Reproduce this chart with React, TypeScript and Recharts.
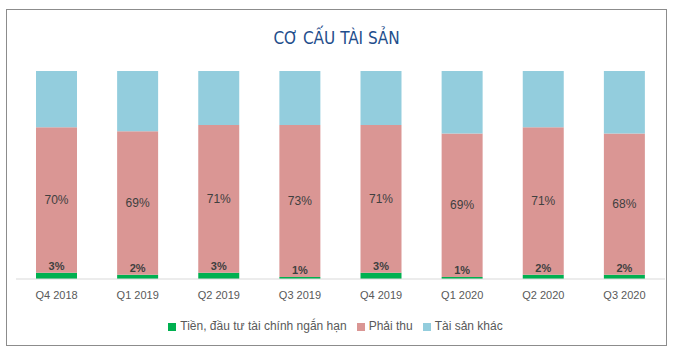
import { BarChart, Bar, XAxis, YAxis, Legend, LabelList } from 'recharts';

// quý
const quarters = ['Q4 2018', 'Q1 2019', 'Q2 2019', 'Q3 2019', 'Q4 2019', 'Q1 2020', 'Q2 2020', 'Q3 2020'];
// tỷ trọng (%)
const tien = [3, 2, 3, 1, 3, 1, 2, 2];
const phaiThu = [70, 69, 71, 73, 71, 69, 71, 68];
const taiSanKhac = [27, 29, 26, 26, 26, 30, 27, 30];
const seriesNames = ['Tiền, đầu tư tài chính ngắn hạn', 'Phải thu', 'Tài sản khác'];

const data = quarters.map((q, i) => ({
  quarter: q,
  tien: tien[i],
  phaiThu: phaiThu[i],
  khac: taiSanKhac[i],
}));

const font = '"Liberation Sans", Arial, sans-serif';
const pct = (v: any) => `${v}%`;

export default function App() {
  return (
    <div style={{ position: 'absolute', left: 0, top: 0, width: 673, height: 352, background: '#fff', fontFamily: font }}>
      <div
        style={{
          position: 'absolute',
          left: 6,
          top: 9,
          width: 659,
          height: 335,
          border: '1px solid #8c8c8c',
        }}
      />
      <div
        style={{
          position: 'absolute',
          left: 0,
          top: 28,
          width: 673,
          textAlign: 'center',
          fontSize: 17,
          color: '#1F4E8C',
          fontFamily: '"Liberation Sans Narrow", "DejaVu Sans Condensed", sans-serif',
        }}
      >
        CƠ CẤU TÀI SẢN
      </div>
      <div style={{ position: 'absolute', left: 0, top: 0 }}>
        <BarChart
          width={673}
          height={352}
          data={data}
          barSize={41}
          margin={{ top: 71, right: 8, left: 16, bottom: 19 }}
        >
          <XAxis
            dataKey="quarter"
            axisLine={{ stroke: '#d9d9d9' }}
            tickLine={false}
            tick={{ fill: '#595959', fontSize: 11, fontFamily: font }}
            tickMargin={6}
            height={40}
          />
          <YAxis width={0} tick={false} axisLine={false} tickLine={false} domain={[0, 100]} />
          <Legend
            verticalAlign="bottom"
            align="center"
            iconType="square"
            iconSize={8}
            itemSorter={(item: any) => seriesNames.indexOf(item.value)}
            wrapperStyle={{ fontSize: 12, fontFamily: font, color: '#595959' }}
            formatter={(value: any) => <span style={{ color: '#595959' }}>{value}</span>}
          />
          <Bar dataKey="tien" stackId="a" fill="#00B050" name={seriesNames[0]} isAnimationActive={false}>
            <LabelList dataKey="tien" position="top" offset={3} formatter={pct} fill="#404040" fontSize={11} fontWeight="bold" />
          </Bar>
          <Bar dataKey="phaiThu" stackId="a" fill="#DA9694" name={seriesNames[1]} isAnimationActive={false}>
            <LabelList dataKey="phaiThu" position="center" formatter={pct} fill="#404040" fontSize={12} />
          </Bar>
          <Bar dataKey="khac" stackId="a" fill="#93CDDD" name={seriesNames[2]} isAnimationActive={false} />
        </BarChart>
      </div>
    </div>
  );
}
